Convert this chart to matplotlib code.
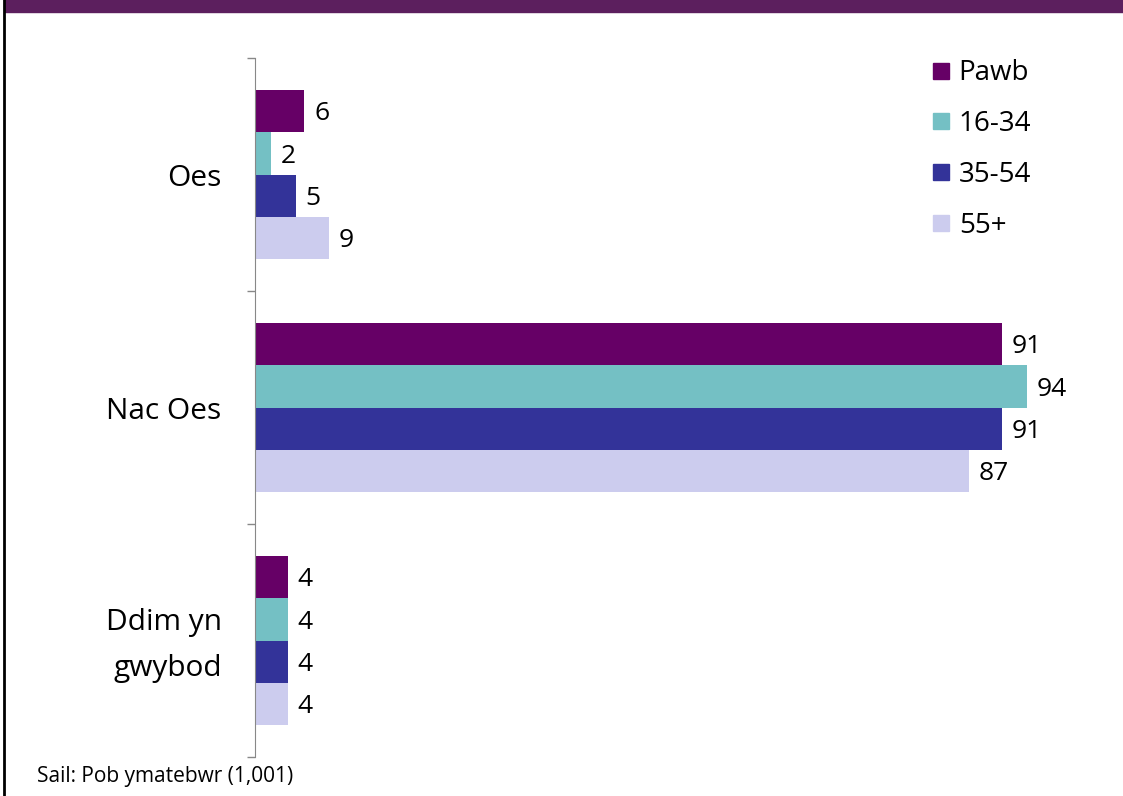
import matplotlib.pyplot as plt
from matplotlib.lines import Line2D
from matplotlib.patches import Rectangle
from matplotlib.transforms import ScaledTranslation

plt.rcParams['font.family'] = ['Open Sans', 'DejaVu Sans']

categories = ["Oes", "Nac Oes", "Ddim yn\ngwybod"]
series = ["Pawb", "16-34", "35-54", "55+"]
values = {
    "Pawb": [6, 91, 4],
    "16-34": [2, 94, 4],
    "35-54": [5, 91, 4],
    "55+": [9, 87, 4],
}
colors = ["#660066", "#74c0c4", "#333399", "#ccccee"]
source = "Sail: Pob ymatebwr (1,001)"

fig = plt.figure(figsize=(11.23, 7.96), dpi=100)
ax = fig.add_axes([0.2271, 0.049, 0.7311, 0.8781])

bar_h = 0.182
offsets = [-1.5, -0.5, 0.5, 1.5]
ypos = list(range(len(categories)))

for name, col, off in zip(series, colors, offsets):
    ys = [y + off * bar_h for y in ypos]
    bars = ax.barh(ys, values[name], height=bar_h, color=col, label=name)
    for b, v in zip(bars, values[name]):
        ax.annotate(str(v), (b.get_width(), b.get_y() + b.get_height() / 2),
                    xytext=(7, -2), textcoords="offset points",
                    ha="left", va="center", fontsize=19, color="black")

ax.set_xlim(0, 100)
ax.set_ylim(2.5, -0.5)
ax.set_yticks(ypos)
ax.set_yticklabels(categories, fontsize=21.5, linespacing=1.75)
ax.set_yticks([-0.5, 0.5, 1.5, 2.5], minor=True)
ax.tick_params(axis="y", which="major", length=0, pad=24)
ax.tick_params(axis="y", which="minor", length=6, color="#888888", width=1)
ax.set_xticks([])
for s in ["top", "right", "bottom"]:
    ax.spines[s].set_visible(False)
ax.spines["left"].set_color("#888888")

# the two-line label sits a little higher in the original
lbl = ax.get_yticklabels()[2]
lbl.set_transform(lbl.get_transform() + ScaledTranslation(0, 0.07, fig.dpi_scale_trans))

handles = [Line2D([], [], marker="s", linestyle="none", markersize=12,
                  markerfacecolor=c, markeredgecolor=c) for c in colors]
fig.legend(handles, series, loc="upper left", bbox_to_anchor=(0.803, 0.957),
           frameon=False, fontsize=20, handletextpad=0.15, labelspacing=0.82,
           handlelength=1.0)

# banner strip and left border
fig.add_artist(Rectangle((0.0045, 0.985), 1.0, 0.02, transform=fig.transFigure,
                         color="#5c1f5e", clip_on=False))
fig.add_artist(Line2D([0.004, 0.004], [0, 1], transform=fig.transFigure,
                      color="black", linewidth=2))

fig.text(0.033, 0.024, source, fontsize=15, ha="left", va="center")

fig.savefig("out.png", dpi=100)
